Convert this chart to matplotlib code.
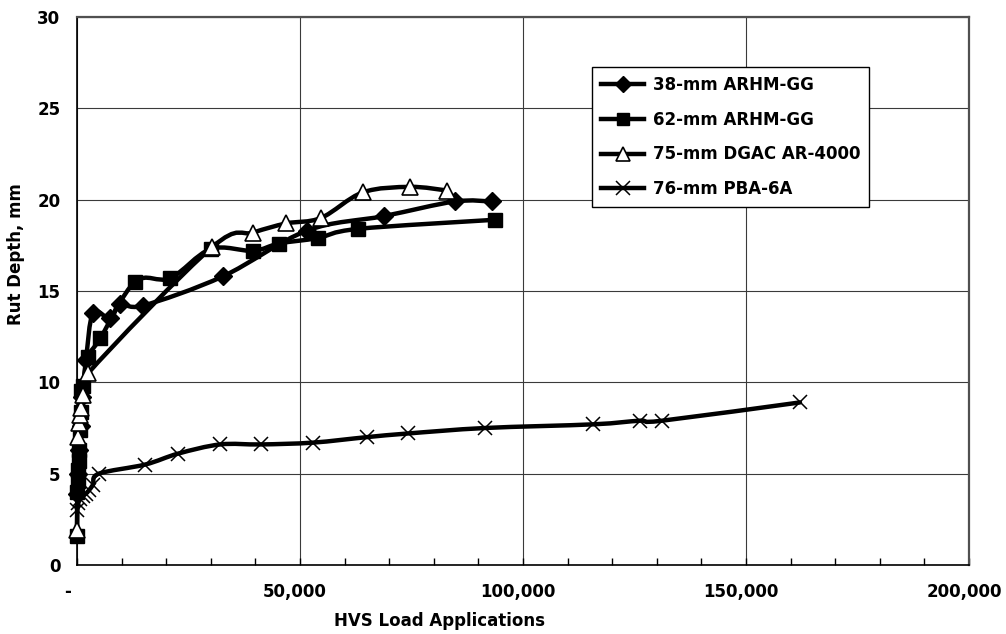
import numpy as np
import matplotlib
matplotlib.use('Agg')
import matplotlib.pyplot as plt
import matplotlib.transforms as mtransforms
from matplotlib.path import Path
from matplotlib.patches import PathPatch
from matplotlib.lines import Line2D

plt.rcParams['font.family'] = ['DejaVu Sans']
plt.rcParams['font.weight'] = 'bold'
plt.rcParams['font.size'] = 12

# rut depth (mm) vs HVS load applications for each section
series_names = ['38-mm ARHM-GG', '62-mm ARHM-GG', '75-mm DGAC AR-4000', '76-mm PBA-6A']

reps_38 = [0, 200, 500, 800, 1200, 2000, 3600, 7400, 9700, 14800, 32700, 51500, 68800, 84700, 93000]
rut_38 = [3.9, 5.0, 6.3, 7.6, 9.2, 11.2, 13.8, 13.5, 14.3, 14.2, 15.8, 18.3, 19.1, 19.9, 19.9]

reps_62 = [0, 100, 200, 300, 400, 500, 600, 800, 1000, 1300, 2500, 5200, 13000, 20900, 30000,
           39500, 45300, 54000, 63000, 93700]
rut_62 = [1.6, 4.0, 4.6, 5.2, 5.7, 6.3, 7.4, 8.4, 9.5, 9.8, 11.4, 12.4, 15.5, 15.7, 17.3,
          17.2, 17.6, 17.9, 18.4, 18.9]

reps_75 = [0, 200, 500, 700, 900, 1300, 2500, 30300, 39500, 46900, 54700, 64100, 74700, 83000]
rut_75 = [1.9, 7.0, 7.8, 8.2, 8.6, 9.3, 10.5, 17.4, 18.2, 18.7, 19.0, 20.4, 20.7, 20.5]

reps_76 = [0, 300, 700, 1300, 2000, 2700, 3600, 4900, 15300, 22700, 32100, 41300, 52900,
           65000, 74200, 91500, 115700, 126200, 131200, 162100]
rut_76 = [3.0, 3.4, 3.6, 3.8, 3.9, 4.1, 4.4, 5.0, 5.5, 6.1, 6.6, 6.6, 6.7,
          7.0, 7.2, 7.5, 7.7, 7.9, 7.9, 8.9]

x_ticks = [0, 50000, 100000, 150000, 200000]
x_tick_labels = ['-', '50,000', '100,000', '150,000', '200,000']
y_ticks = [0, 5, 10, 15, 20, 25, 30]


def smooth_path(x, y):
    # Catmull-Rom style bezier through the points (spreadsheet "smoothed line")
    pts = np.column_stack([x, y]).astype(float)
    n = len(pts)
    verts = [pts[0]]
    codes = [Path.MOVETO]
    for i in range(n - 1):
        p0 = pts[max(i - 1, 0)]
        p1 = pts[i]
        p2 = pts[i + 1]
        p3 = pts[min(i + 2, n - 1)]
        verts += [p1 + (p2 - p0) / 6, p2 - (p3 - p1) / 6, p2]
        codes += [Path.CURVE4] * 3
    return Path(verts, codes)


fig = plt.figure(figsize=(10.06, 6.34), dpi=100)
ax = fig.add_axes([77 / 1006, 69 / 634, 892 / 1006, 548 / 634])

styles = [
    dict(marker='D', ms=9.5, mfc='black', mec='black', mew=1),
    dict(marker='s', ms=10, mfc='black', mec='black', mew=1),
    dict(marker='^', ms=11, mfc='white', mec='black', mew=1.2),
    dict(marker='x', ms=10, mfc='black', mec='black', mew=1.1),
]
legend_ms = [8, 8, 10, 10]
data = [(reps_38, rut_38), (reps_62, rut_62), (reps_75, rut_75), (reps_76, rut_76)]

handles = []
for k, ((xs, ys), st) in enumerate(zip(data, styles)):
    ax.add_patch(PathPatch(smooth_path(xs, ys), fill=False, lw=3.2, edgecolor='black',
                           capstyle='round', joinstyle='round', zorder=3 + 2 * k, clip_on=False))
    ax.plot(xs, ys, ls='none', zorder=4 + 2 * k, clip_on=False, **st)
    hst = dict(st, ms=legend_ms[k])
    handles.append(Line2D([], [], color='black', lw=3.2, **hst))

ax.set_xlim(0, 200000)
ax.set_ylim(0, 30)
ax.set_xticks(x_ticks)
ax.set_xticklabels(x_tick_labels)
ax.set_xticks(np.arange(0, 200001, 10000), minor=True)
ax.set_yticks(y_ticks)

ax.tick_params(axis='x', which='both', direction='in', length=5, width=1, pad=13, labelsize=12)
ax.tick_params(axis='y', which='both', length=0, pad=12, labelsize=12)
for i, lab in enumerate(ax.get_xticklabels()):
    dx = -9 if i == 0 else -5
    lab.set_transform(lab.get_transform() + mtransforms.ScaledTranslation(dx / 100, 0, fig.dpi_scale_trans))

ax.grid(True, which='major', color='#3a3a3a', lw=0.8)
ax.set_axisbelow(True)
for side in ['left', 'bottom']:
    ax.spines[side].set_color('black')
    ax.spines[side].set_linewidth(1.2)
for side in ['top', 'right']:
    ax.spines[side].set_color('#505050')
    ax.spines[side].set_linewidth(1.6)

ax.set_xlabel('HVS Load Applications', fontsize=12, fontweight='bold')
ax.set_ylabel('Rut Depth, mm', fontsize=12, fontweight='bold')
ax.xaxis.set_label_coords(0.406, -0.102)
ax.xaxis.label.set_va('center')
ax.yaxis.set_label_coords(-0.068, 0.567)
ax.yaxis.label.set_va('center')

leg = ax.legend(handles, series_names, loc='upper left', bbox_to_anchor=(0.577, 0.909),
                borderaxespad=0, fontsize=12, frameon=True, fancybox=False, edgecolor='black',
                framealpha=1, handlelength=2.6, handletextpad=0.5, labelspacing=1.0,
                borderpad=0.55, numpoints=1)
leg.get_frame().set_linewidth(1.0)
leg.set_zorder(20)

plt.savefig('out.png', dpi=100)
